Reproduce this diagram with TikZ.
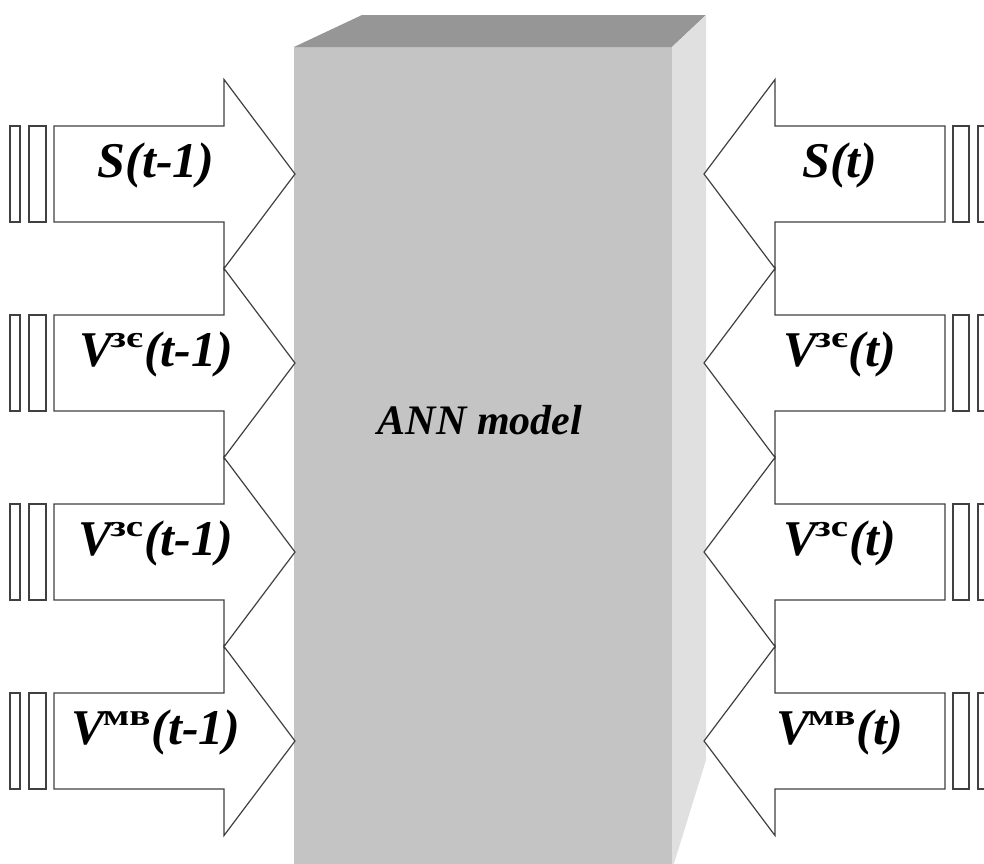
\documentclass[tikz,border=0pt]{standalone}
\usepackage{fontspec}
\setmainfont{Liberation Serif}
\usetikzlibrary{calc}

\definecolor{frontgray}{HTML}{C4C4C4}
\definecolor{topgray}{HTML}{969696}
\definecolor{sidegray}{HTML}{E0E0E0}

% upright Cyrillic superscript of the voltage labels
\newcommand{\vsup}[1]{\kern-2pt\raisebox{19pt}{\scalebox{1.3}[1]{\fontsize{30}{30}\selectfont\upshape #1}}\kern1pt}

\begin{document}
\begin{tikzpicture}[x=1pt, y=-1pt, line width=1.2pt,
    blockarrow/.style={draw=black!75, fill=white, line join=miter},
    bar/.style={draw=black!75, fill=white},
    lbl/.style={font=\fontsize{50}{50}\selectfont\bfseries\itshape, inner sep=0pt}]
  \useasboundingbox (0,0) rectangle (984,863);
  \clip (0,0) rectangle (984,863);

  % ANN block
  \coordinate (F1) at (294,47);
  \coordinate (F2) at (672,47);
  \coordinate (B1) at (362,15);
  \coordinate (B2) at (706,15);
  \fill[frontgray] (F1) rectangle (672,880);
  \fill[topgray] (F1) -- (B1) -- (B2) -- (F2) -- cycle;
  \fill[sidegray] (F2) -- (B2) -- (706,760) -- (672,870) -- cycle;
  \node[font=\fontsize{42}{42}\selectfont\bfseries\itshape] (ann) at (480,420) {ANN model};

  % Inputs at time t-1
  \foreach \c/\txt [count=\i] in {174/{S(t-1)}, 363/{V\vsup{зє}(t-1)},
      552/{V\vsup{зс}(t-1)}, 741/{V\vsup{мв}(t-1)}} {
    \draw[bar] (10,\c-48) rectangle (20,\c+48);
    \draw[bar] (29,\c-48) rectangle (46,\c+48);
    \draw[blockarrow] (54,\c-48) -- (224,\c-48) -- (224,\c-94.5) -- (295,\c)
      -- (224,\c+94.5) -- (224,\c+48) -- (54,\c+48) -- cycle;
    \node[lbl] (in\i) at (156,\c-9) {\txt};
  }

  % Outputs at time t
  \foreach \c/\txt [count=\i] in {174/{S(t)}, 363/{V\vsup{зє}(t)},
      552/{V\vsup{зс}(t)}, 741/{V\vsup{мв}(t)}} {
    \draw[bar] (953,\c-48) rectangle (969,\c+48);
    \draw[bar] (978,\c-48) rectangle (994,\c+48);
    \draw[blockarrow] (945,\c-48) -- (775,\c-48) -- (775,\c-94.5) -- (704,\c)
      -- (775,\c+94.5) -- (775,\c+48) -- (945,\c+48) -- cycle;
    \node[lbl] (out\i) at (840,\c-9) {\txt};
  }
\end{tikzpicture}
\end{document}
